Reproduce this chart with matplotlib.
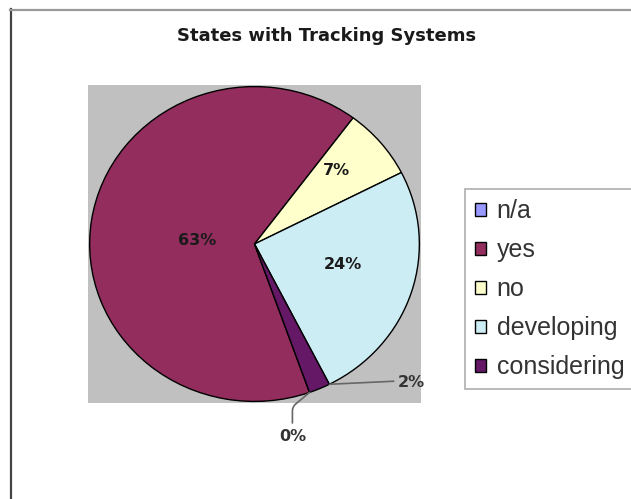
import numpy as np
import matplotlib
matplotlib.use('Agg')
import matplotlib.pyplot as plt
from matplotlib.lines import Line2D

# data (percent of states)
categories = ['n/a', 'yes', 'no', 'developing', 'considering']
values = [0, 63, 7, 24, 2]
colors = ['#9999FF', '#922D5E', '#FFFFCC', '#CDEDF5', '#641866']

plt.rcParams['font.family'] = ['Liberation Sans', 'DejaVu Sans']

fig = plt.figure(figsize=(6.31, 4.99), dpi=100)
fig.patch.set_facecolor('white')

# outer frame (left + top only, as in the scan)
fig.add_artist(Line2D([10.5/631, 10.5/631], [0, 1 - 9/499], color='#444444', lw=1.6))
fig.add_artist(Line2D([10/631, 1], [1 - 9.5/499, 1 - 9.5/499], color='#999999', lw=1.6))

ax = fig.add_axes([88/631, 1 - 403/499, 333/631, 318/499])
wedges, _ = ax.pie(values, colors=colors, startangle=90 - 160.5, counterclock=False,
                   wedgeprops=dict(edgecolor='black', linewidth=1.0))
ax.set_aspect('auto')
ax.set_xlim(-1.01, 1.01)
ax.set_ylim(-1.01, 1.01)
ax.set_frame_on(True)
ax.set_facecolor('#C0C0C0')
for s in ax.spines.values():
    s.set_visible(False)
ax.set_xticks([])
ax.set_yticks([])

# percentage labels
lab_font = dict(fontsize=11.5, fontweight='bold', family='DejaVu Sans')
inside = {'yes': (0.35, 5), 'no': (0.68, 3), 'developing': (0.55, 4)}
for w, cat, v in zip(wedges, categories, values):
    txt = f'{v}%'
    if cat in inside:
        r, shift = inside[cat]
        mid = np.deg2rad((w.theta1 + w.theta2) / 2 + shift)
        ax.text(r * np.cos(mid), r * np.sin(mid), txt, ha='center', va='center',
                color='#1a1a1a', **lab_font)
    elif cat == 'considering':
        a = np.deg2rad(w.theta2)
        ax.annotate(txt, xy=(np.cos(a), np.sin(a)), xytext=(0.87, -0.88),
                    ha='left', va='center', color='#333333', **lab_font,
                    arrowprops=dict(arrowstyle='-', color='#666666', lw=1.2,
                                    shrinkA=1, shrinkB=0, relpos=(0, 0.6)),
                    annotation_clip=False)
    else:
        a = np.deg2rad(w.theta1)
        ax.annotate(txt, xy=(np.cos(a), np.sin(a)), xytext=(0.23, -1.22),
                    ha='center', va='center', color='#333333', **lab_font,
                    arrowprops=dict(arrowstyle='-', color='#666666', lw=1.2,
                                    shrinkA=2, shrinkB=0, relpos=(0.5, 1),
                                    connectionstyle='angle,angleA=90,angleB=40,rad=4'),
                    annotation_clip=False)

fig.text(327/631, 1 - 36/499, 'States with Tracking Systems', ha='center', va='center',
         fontsize=13, fontweight='bold', family='DejaVu Sans', color='#1a1a1a')

leg = fig.legend(wedges, categories, loc='upper left',
                 bbox_to_anchor=(465/631, 1 - 189/499), borderaxespad=0,
                 fontsize=18, frameon=True, fancybox=False, edgecolor='#999999',
                 handlelength=0.42, handleheight=0.42, handletextpad=0.45,
                 labelspacing=0.6, borderpad=0.4)
leg.get_frame().set_linewidth(1.2)
for t in leg.get_texts():
    t.set_color('#333333')

fig.savefig('out.png', dpi=100, facecolor='white')
